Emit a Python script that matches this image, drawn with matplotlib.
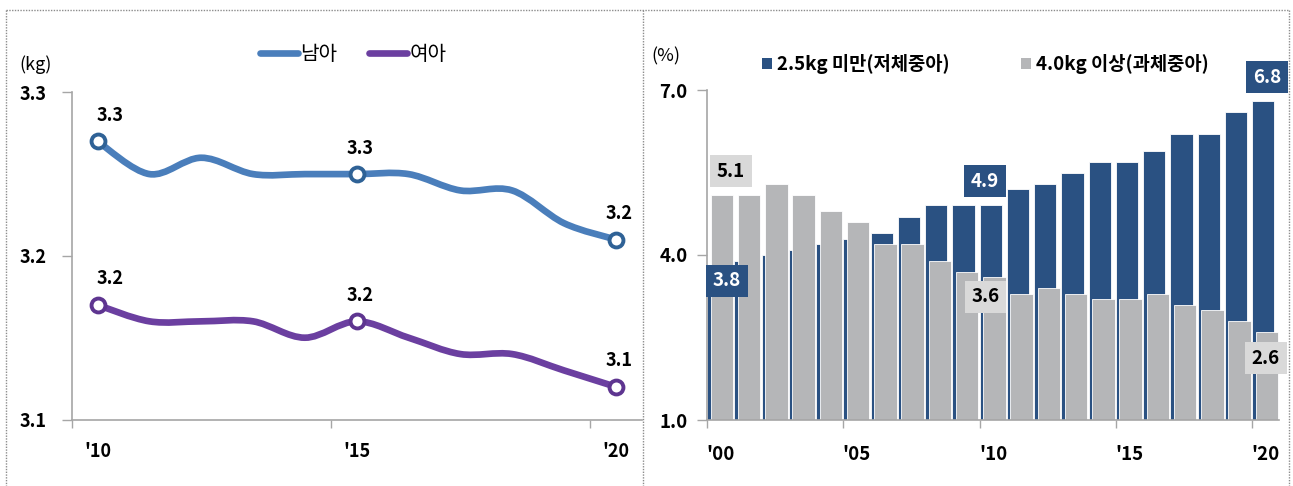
import matplotlib
matplotlib.use("Agg")
import matplotlib.pyplot as plt
from matplotlib.path import Path
from matplotlib.patches import PathPatch, Patch
from matplotlib.lines import Line2D
from decimal import Decimal, ROUND_HALF_UP
import numpy as np

plt.rcParams['font.family'] = ['Noto Sans CJK KR', 'DejaVu Sans']

# ---------------- data ----------------
years_left = list(range(2010, 2021))
boys = [3.27, 3.25, 3.26, 3.25, 3.25, 3.25, 3.25, 3.24, 3.24, 3.22, 3.21]
girls = [3.17, 3.16, 3.16, 3.16, 3.15, 3.16, 3.15, 3.14, 3.14, 3.13, 3.12]
left_label_years = [2010, 2015, 2020]
left_tick_labels = ["'10", "'15", "'20"]
left_yticks = [3.1, 3.2, 3.3]

years_right = list(range(2000, 2021))
low_weight = [3.8, 3.9, 4.0, 4.1, 4.2, 4.3, 4.4, 4.7, 4.9, 4.9, 4.9,
              5.2, 5.3, 5.5, 5.7, 5.7, 5.9, 6.2, 6.2, 6.6, 6.8]
high_weight = [5.1, 5.1, 5.3, 5.1, 4.8, 4.6, 4.2, 4.2, 3.9, 3.7, 3.6,
               3.3, 3.4, 3.3, 3.2, 3.2, 3.3, 3.1, 3.0, 2.8, 2.6]
right_tick_years = [2000, 2005, 2010, 2015, 2020]
right_tick_labels = ["'00", "'05", "'10", "'15", "'20"]
right_yticks = [1.0, 4.0, 7.0]

series_left = ["남아", "여아"]
series_right = ["2.5kg 미만(저체중아)", "4.0kg 이상(과체중아)"]


def fmt1(v):
    return str(Decimal(str(v)).quantize(Decimal('0.1'), rounding=ROUND_HALF_UP))


# ---------------- style ----------------
BLUE = "#4A7EBB"
BLUE_EDGE = "#2F6296"
PURPLE = "#6B3FA0"
PURPLE_EDGE = "#5E3590"
NAVY = "#2A5182"
GRAY = "#B5B6B8"
LABEL_GRAY = "#D9D9D9"
AXIS = "#A6A6A6"

W, H = 1293, 486
fig = plt.figure(figsize=(W / 100, H / 100), dpi=100)


def fx(px):
    return px / W


def fy(py):
    return 1 - py / H


# ---------------- left chart ----------------
axL = fig.add_axes([fx(71.7), fy(419.5), fx(641.7 - 71.7), (419.5 - 92.3) / H])
xs = np.arange(len(years_left))


def smooth_path(x, y):
    pts = np.column_stack([x, y]).astype(float)
    n = len(pts)
    verts = [pts[0]]
    codes = [Path.MOVETO]
    for i in range(n - 1):
        p0 = pts[i - 1] if i > 0 else pts[i]
        p1 = pts[i]
        p2 = pts[i + 1]
        p3 = pts[i + 2] if i + 2 < n else pts[i + 1]
        c1 = p1 + (p2 - p0) / 6.0
        c2 = p2 - (p3 - p1) / 6.0
        verts += [c1, c2, p2]
        codes += [Path.CURVE4] * 3
    return Path(verts, codes)


for vals, col, ecol in [(boys, BLUE, BLUE_EDGE), (girls, PURPLE, PURPLE_EDGE)]:
    patch = PathPatch(smooth_path(xs, vals), facecolor='none', edgecolor=col,
                      lw=4.8, capstyle='round', joinstyle='round', zorder=3)
    axL.add_patch(patch)
    idx = [years_left.index(y) for y in left_label_years]
    axL.plot(xs[idx], np.array(vals)[idx], linestyle='none', marker='o',
             markersize=10, markerfacecolor='white', markeredgecolor=ecol,
             markeredgewidth=2.8, zorder=4)
    for k, i in enumerate(idx):
        dx = 12 if k == 0 else 3
        axL.annotate(fmt1(vals[i]), xy=(xs[i], vals[i]), xytext=(dx, 26),
                     textcoords='offset pixels', ha='center', va='center',
                     fontsize=13, fontweight='bold', color='black', zorder=5)

axL.set_xlim(-0.5, len(years_left) - 0.5)
axL.set_ylim(3.1, 3.3)
axL.set_yticks(left_yticks)
axL.set_yticklabels([f"{v:.1f}" for v in left_yticks], fontsize=13, fontweight='bold')
axL.set_xticks([years_left.index(y) - 0.5 for y in left_label_years])
axL.set_xticklabels([])
axL.set_xticks([years_left.index(y) for y in left_label_years], minor=True)
axL.set_xticklabels(left_tick_labels, minor=True, fontsize=13, fontweight='bold')
axL.tick_params(axis='x', which='minor', length=0, pad=16)
axL.tick_params(axis='x', which='major', length=6, width=1, color=AXIS, direction='out')
axL.tick_params(axis='y', length=7, width=1, color=AXIS, direction='out', pad=11)
for s in ['top', 'right']:
    axL.spines[s].set_visible(False)
for s in ['left', 'bottom']:
    axL.spines[s].set_color(AXIS)
    axL.spines[s].set_linewidth(1.2)

fig.text(fx(36), fy(65), "(kg)", ha='center', va='center', fontsize=13)

hL = [Line2D([0], [0], color=BLUE, lw=4.8, solid_capstyle='round'),
      Line2D([0], [0], color=PURPLE, lw=4.8, solid_capstyle='round')]
fig.legend(hL, series_left, loc='center', bbox_to_anchor=(fx(353), fy(55)),
           ncol=2, frameon=False, fontsize=14.5, handlelength=1.9,
           handletextpad=0.1, columnspacing=1.6, borderpad=0, borderaxespad=0)

# ---------------- right chart ----------------
axR = fig.add_axes([fx(707), fy(420), fx(1279.3 - 707), (420 - 90) / H])
xr = np.arange(len(years_right))
bw = 0.82
navy_left = xr - 0.5
gray_left = xr - 0.5 + 0.135
axR.bar(navy_left, np.array(low_weight) - 1.0, bottom=1.0, width=bw, align='edge',
        color=NAVY, edgecolor='white', linewidth=0.6, zorder=2)
axR.bar(gray_left, np.array(high_weight) - 1.0, bottom=1.0, width=bw, align='edge',
        color=GRAY, edgecolor='white', linewidth=0.6, zorder=3)

axR.set_xlim(-0.5, len(years_right) - 0.5)
axR.set_ylim(1.0, 7.0)
axR.set_yticks(right_yticks)
axR.set_yticklabels([f"{v:.1f}" for v in right_yticks], fontsize=13.5, fontweight='bold')
axR.set_xticks([years_right.index(y) - 0.5 for y in right_tick_years])
axR.set_xticklabels([])
axR.set_xticks([years_right.index(y) for y in right_tick_years], minor=True)
axR.set_xticklabels(right_tick_labels, minor=True, fontsize=13.5, fontweight='bold')
axR.tick_params(axis='x', which='minor', length=0, pad=18)
axR.tick_params(axis='x', which='major', length=6, width=1, color=AXIS, direction='out')
axR.tick_params(axis='y', length=7, width=1, color=AXIS, direction='out', pad=7)
for s in ['top', 'right']:
    axR.spines[s].set_visible(False)
for s in ['left', 'bottom']:
    axR.spines[s].set_color(AXIS)
    axR.spines[s].set_linewidth(1.2)
axR.spines['left'].set_zorder(5)
axR.spines['bottom'].set_zorder(5)

# labels on bars: (year, offset px)
navy_labels = [(2000, 8.5, -15), (2010, -6, 24.5), (2020, 4, 24)]
gray_labels = [(2000, 9, 23.5), (2010, -8.7, -20), (2020, -1, -26)]
for yr, dx, dy in navy_labels:
    i = years_right.index(yr)
    axR.annotate(fmt1(low_weight[i]), xy=(navy_left[i] + bw / 2, low_weight[i]),
                 xytext=(dx, dy), textcoords='offset pixels', ha='center', va='center',
                 fontsize=13.5, fontweight='bold', color='white', zorder=10,
                 bbox=dict(boxstyle='square,pad=0.36', facecolor=NAVY, edgecolor='none'))
for yr, dx, dy in gray_labels:
    i = years_right.index(yr)
    axR.annotate(fmt1(high_weight[i]), xy=(gray_left[i] + bw / 2, high_weight[i]),
                 xytext=(dx, dy), textcoords='offset pixels', ha='center', va='center',
                 fontsize=13.5, fontweight='bold', color='black', zorder=10,
                 bbox=dict(boxstyle='square,pad=0.36', facecolor=LABEL_GRAY, edgecolor='none'))

fig.text(fx(666), fy(56), "(%)", ha='center', va='center', fontsize=13)

hR = [Patch(facecolor=NAVY, edgecolor='none'), Patch(facecolor=GRAY, edgecolor='none')]
fig.legend(hR, series_right, loc='center', bbox_to_anchor=(fx(985), fy(64)),
           ncol=2, frameon=False, handlelength=0.55, handleheight=0.55,
           handletextpad=0.25, columnspacing=3.8, borderpad=0, borderaxespad=0,
           prop={'weight': 'bold', 'size': 13.5})

# ---------------- dotted frame ----------------
frame_kw = dict(color='#8C8C8C', lw=1.0, linestyle=(0, (1, 1)), transform=fig.transFigure)
fig.add_artist(Line2D([fx(6), fx(1289)], [fy(10), fy(10)], **frame_kw))
fig.add_artist(Line2D([fx(6), fx(6)], [fy(10), fy(486)], **frame_kw))
fig.add_artist(Line2D([fx(643), fx(643)], [fy(10), fy(486)], **frame_kw))
fig.add_artist(Line2D([fx(1289), fx(1289)], [fy(10), fy(486)], **frame_kw))

fig.savefig("out.png", dpi=100)
